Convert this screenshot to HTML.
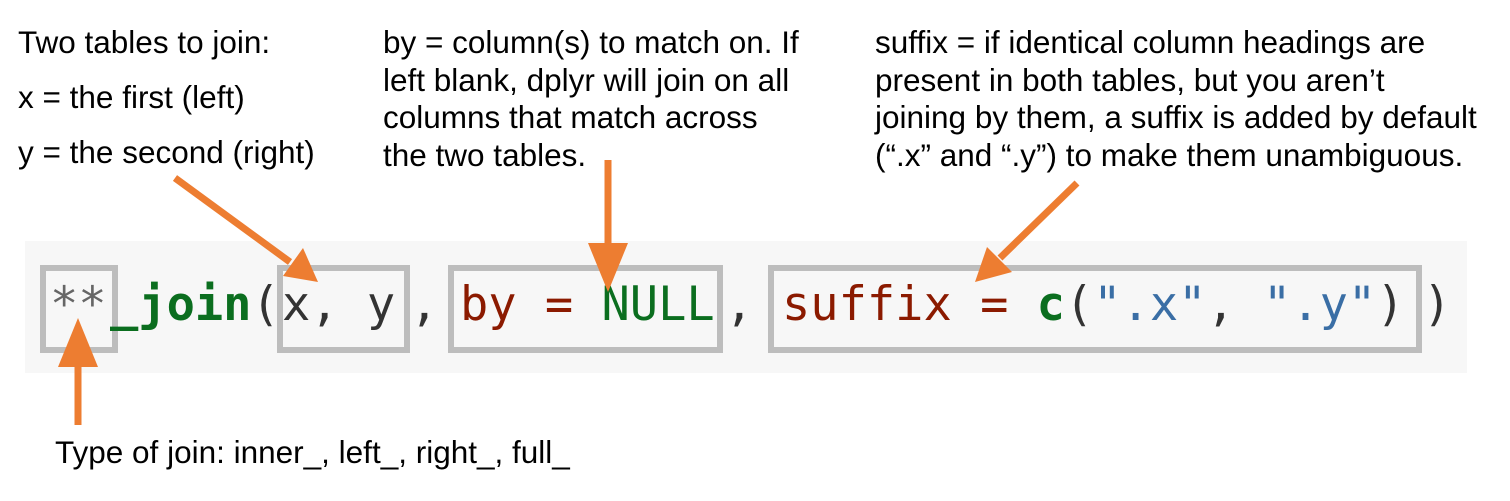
<!DOCTYPE html>
<html><head><meta charset="utf-8"><style>
body{margin:0;width:1510px;height:501px;background:#fff;position:relative;overflow:hidden;font-family:"Liberation Sans",Arial,sans-serif;}
.t{position:absolute;font-size:31.5px;color:#000;white-space:nowrap;line-height:37.7px;}
.band{position:absolute;left:25px;top:241px;width:1442px;height:132px;background:#f7f7f7;}
.box{position:absolute;border:6px solid #bdbdbd;box-sizing:border-box;}
.c{position:absolute;top:275px;font-family:"DejaVu Sans Mono","Liberation Mono",monospace;font-size:47px;white-space:pre;line-height:60px;}
</style></head><body>
<div class="t" style="left:18px;top:24px">Two tables to join:</div>
<div class="t" style="left:18px;top:79px">x = the first (left)</div>
<div class="t" style="left:18px;top:134px">y = the second (right)</div>
<div class="t" style="left:383px;top:24px">by = column(s) to match on. If<br>left blank, dplyr will join on all<br>columns that match across<br>the two tables.</div>
<div class="t" style="left:875px;top:24px">suffix = if identical column headings are<br>present in both tables, but you aren’t<br>joining by them, a suffix is added by default<br>(“.x” and “.y”) to make them unambiguous.</div>
<div class="t" style="left:55px;top:434px">Type of join: inner_, left_, right_, full_</div>
<div class="band"></div>
<div class="box" style="left:40px;top:265px;width:78px;height:88px"></div>
<div class="box" style="left:277px;top:265px;width:133px;height:88px"></div>
<div class="box" style="left:448px;top:265px;width:275px;height:88px"></div>
<div class="box" style="left:768px;top:265px;width:654px;height:88px"></div>
<div class="c" style="left:50px;color:#666">**</div>
<div class="c" style="left:110px;color:#0b6e1f;font-weight:bold">_join<span style="color:#333;font-weight:normal">(</span></div>
<div class="c" style="left:282px;color:#333">x, y</div>
<div class="c" style="left:410px;color:#333">,</div>
<div class="c" style="left:460px;color:#8b1a00">by = <span style="color:#0b6e1f">NULL</span></div>
<div class="c" style="left:725px;color:#333">,</div>
<div class="c" style="left:782px;color:#8b1a00">suffix = <b style="color:#0b6e1f">c</b><span style="color:#333">(</span><span style="color:#3a6ea5">".x"</span><span style="color:#333">, </span><span style="color:#3a6ea5">".y"</span><span style="color:#333">)</span></div>
<div class="c" style="left:1423px;color:#333">)</div>
<svg width="1510" height="501" style="position:absolute;left:0;top:0">
<g stroke="#ed7d31" stroke-width="7" fill="#ed7d31">
<line x1="175" y1="178" x2="290" y2="262"/>
<polygon stroke="none" points="318,282 283,276 303,248"/>
<line x1="608" y1="160" x2="608" y2="245"/>
<polygon stroke="none" points="608,292 588,243 628,243"/>
<line x1="1077" y1="183" x2="1000" y2="258"/>
<polygon stroke="none" points="975,282 987,247 1012,272"/>
<line x1="78" y1="425" x2="78" y2="365"/>
<polygon stroke="none" points="78,318 58,367 98,367"/>
</g></svg>
</body></html>
